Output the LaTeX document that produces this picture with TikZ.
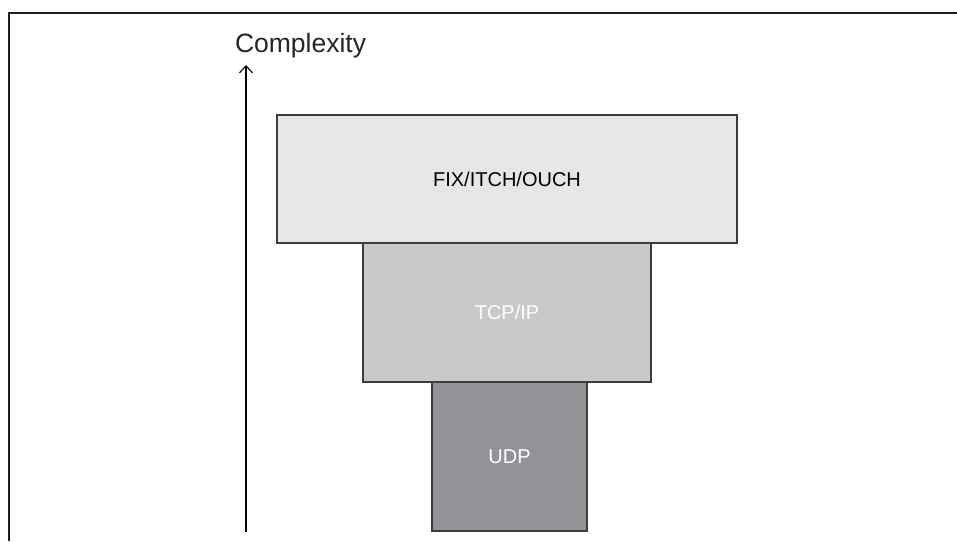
\documentclass[tikz,border=0pt]{standalone}
\usepackage{fontspec}
\setmainfont{Liberation Sans}
\usetikzlibrary{arrows.meta}
\definecolor{layerA}{HTML}{E5E6E8}
\definecolor{layerB}{HTML}{C8C9CB}
\definecolor{layerC}{HTML}{929396}
\definecolor{edge}{HTML}{3C3C3C}
\begin{document}
\begin{tikzpicture}[x=1pt, y=-1pt, every node/.style={inner sep=0, outer sep=0},
	layer/.style={draw=edge, line width=1.2pt, font=\fontsize{20}{24}\selectfont}]
	\useasboundingbox (0,0) rectangle (957,541);
	\fill[white] (0,0) rectangle (957,541);
	\draw[line width=2.8pt, color=black!88] (9,541) -- (9,13) -- (957,13);
	% layers, widest on top
	\node[layer, fill=layerA, minimum width=460pt, minimum height=128pt] (fix) at (507,179) {FIX/ITCH/OUCH};
	\node[layer, fill=layerB, text=white, minimum width=288pt, minimum height=139pt] (tcp) at (507,312.5) {TCP/IP};
	\node[layer, fill=layerC, text=white, minimum width=155pt, minimum height=149pt] (udp) at (509.5,456.5) {UDP};
	% axis
	\coordinate (base) at (246,532);
	\coordinate (tip) at (246,65);
	\draw[line width=1.1pt, -{Straight Barb[length=7pt, width=13pt]}] (base) -- (tip);
	\node[anchor=base west, font=\fontsize{26.5}{30}\selectfont, text=black!85] (cx) at (235,52) {Complexity};
\end{tikzpicture}
\end{document}
